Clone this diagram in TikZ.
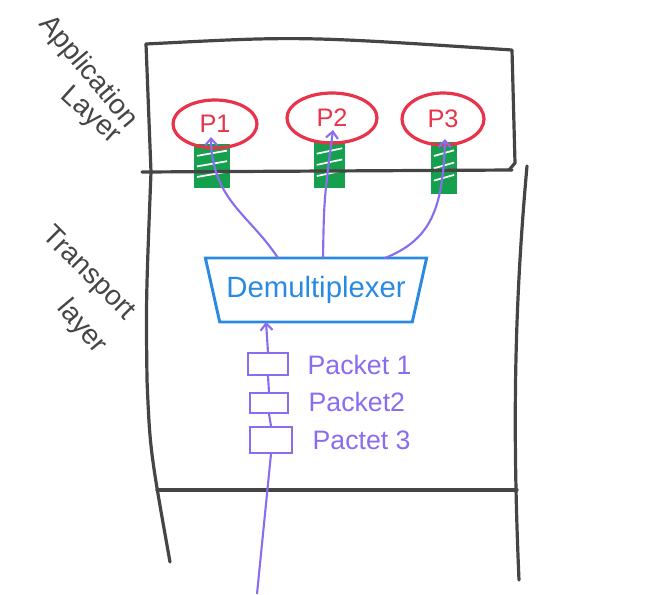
\documentclass[tikz,border=0pt]{standalone}
\usepackage{fontspec}
\setmainfont{Liberation Sans}
\usetikzlibrary{arrows.meta,shapes.geometric,calc}
\definecolor{ink}{HTML}{454545}
\definecolor{redp}{HTML}{E8334A}
\definecolor{greenb}{HTML}{14A04C}
\definecolor{purp}{HTML}{8A6CF0}
\definecolor{blued}{HTML}{2A8AE0}
\begin{document}
\begin{tikzpicture}[x=0.75pt,y=-0.75pt,
  wall/.style={draw=ink, line width=2.4pt, line cap=round, line join=round},
  proc/.style={ellipse, draw=redp, line width=2.4pt, text=redp, font=\fontsize{19}{19}\selectfont, inner sep=0pt},
  sock/.style={rectangle, fill=greenb, draw=greenb, line width=1pt, inner sep=0pt},
  hatch/.style={draw=white, line width=1.3pt, shorten <=2pt, shorten >=2pt},
  flow/.style={draw=purp, line width=1.6pt, -{Straight Barb[length=5pt,width=9pt]}},
  link/.style={draw=purp, line width=1.6pt},
  pkt/.style={rectangle, draw=purp, line width=1.5pt, inner sep=0pt},
  pktlabel/.style={text=purp, font=\fontsize{20}{20}\selectfont, anchor=west},
  layerlabel/.style={text=ink, font=\fontsize{21}{21}\selectfont, inner sep=0pt},
  demuxbox/.style={trapezium, shape border rotate=180, trapezium angle=64, trapezium stretches=true,
     draw=blued, line width=2.2pt, text=blued, font=\fontsize{22}{22}\selectfont, inner sep=0pt}
  ]
\useasboundingbox (0,0) rectangle (647,594);

% sockets
\node[sock, minimum width=25.5pt, minimum height=32pt] (g1) at (212,166) {};
\node[sock, minimum width=22pt, minimum height=34pt] (g2) at (329.5,164.5) {};
\node[sock, minimum width=18pt, minimum height=37.5pt] (g3) at (444,168) {};
\foreach \g in {g1,g2,g3}{
  \foreach \a/\b in {0.28/0.14,0.52/0.38,0.76/0.62}{
    \draw[hatch] ($(\g.north west)!\a!(\g.south west)$) -- ($(\g.north east)!\b!(\g.south east)$);
  }
}

% walls
\draw[wall] (146,44) .. controls (300,36) .. (512,50) -- (515,163) -- (509,170);
\draw[wall] (142,172) -- (512,170);
\draw[wall] (146,44) -- (151,172) .. controls (146,300) .. (147,380) .. controls (150,450) .. (170,562);
\draw[wall] (527,166) .. controls (515,300) and (512,420) .. (519,580);
\draw[wall] (157,490) -- (517,490);

% layer labels
\node[layerlabel, rotate=-50] (al1) at (88,72) {Application};
\node[layerlabel, rotate=-42] (al2) at (90,116) {Layer};
\node[layerlabel, rotate=-45] (tl1) at (88,274) {Transport};
\node[layerlabel, rotate=-50] (tl2) at (82,327) {layer};

% processes
\node[proc, minimum width=63pt, minimum height=36pt] (p1) at (215,124) {P1};
\node[proc, minimum width=67.5pt, minimum height=37.5pt] (p2) at (332,118) {P2};
\node[proc, minimum width=61.5pt, minimum height=39pt] (p3) at (443,119) {P3};

% demultiplexer
\node[demuxbox, minimum width=166pt, minimum height=48pt] (demux) at (316,290) {Demultiplexer};
\coordinate (d1) at ($(demux.center)+(-38,-32)$);
\coordinate (d2) at ($(demux.center)+(7,-32)$);
\coordinate (d3) at ($(demux.center)+(69,-32)$);
\coordinate (dmin) at ($(demux.center)+(-50,32)$);

\draw[flow] (d1) .. controls (250,215) and (212,200) .. ($(p1.center)+(-4,13)$);
\draw[flow] (d2) .. controls (324,200) .. ($(p2.center)+(1,12)$);
\draw[flow] (d3) .. controls (430,240) and (443,210) .. ($(p3.center)+(2,20)$);

% packets
\node[pkt, minimum width=30pt, minimum height=16.5pt] (pk1) at (268,364) {};
\node[pkt, minimum width=29pt, minimum height=15pt] (pk2) at (269,403) {};
\node[pkt, minimum width=31.5pt, minimum height=19.5pt] (pk3) at (271,440) {};
\node[pktlabel] (l1) at (303,365) {Packet 1};
\node[pktlabel] (l2) at (304,402) {Packet2};
\node[pktlabel] (l3) at (308,440) {Pactet 3};

\coordinate (src) at (257,594);
\draw[link] (src) -- (pk3.south);
\draw[link] (pk3.north) -- (pk2.south);
\draw[link] (pk2.north) -- (pk1.south);
\draw[flow] (pk1.north) -- (dmin);
\end{tikzpicture}
\end{document}
